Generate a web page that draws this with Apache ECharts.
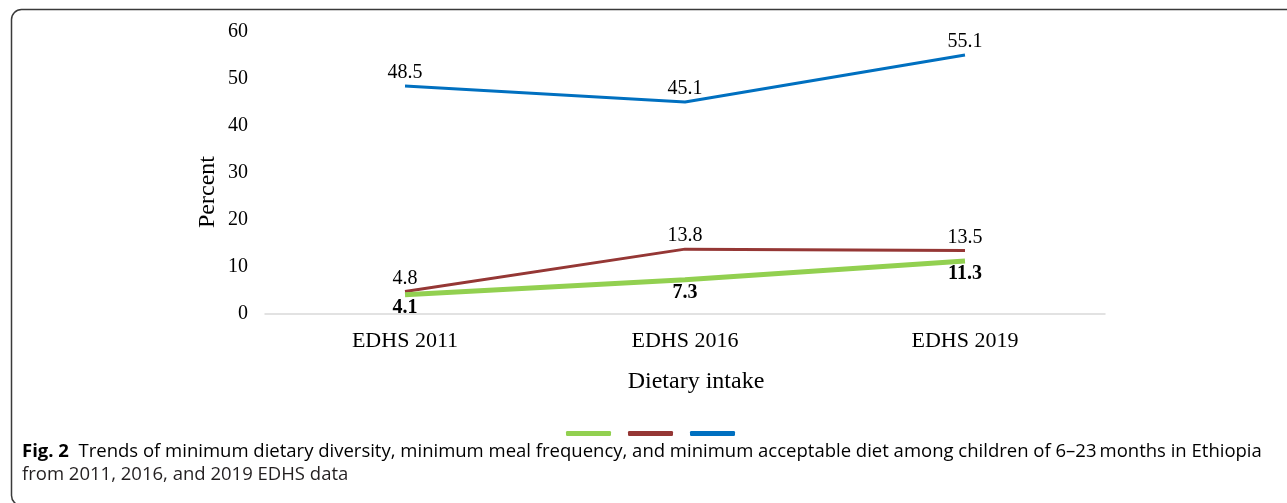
<!DOCTYPE html>
<html><head><meta charset="utf-8">
<script src="https://cdn.jsdelivr.net/npm/echarts@6/dist/echarts.min.js"></script>
<style>html,body{margin:0;padding:0;background:#fff}#c{width:1287px;height:503px}</style>
</head><body><div id="c"></div>
<script>
var categories = ['EDHS 2011', 'EDHS 2016', 'EDHS 2019'];
var dietaryDiversity = [4.1, 7.3, 11.3];
var mealFrequency = [4.8, 13.8, 13.5];
var acceptableDiet = [48.5, 45.1, 55.1];
var yTicks = [0, 10, 20, 30, 40, 50, 60];
var yAxisTitle = 'Percent';
var xAxisTitle = 'Dietary intake';
var captionBold = 'Fig. 2';
var captionLine1 = '  Trends of minimum dietary diversity, minimum meal frequency, and minimum acceptable diet among children of 6\u201323\u2009months in Ethiopia';
var captionLine2 = 'from 2011, 2016, and 2019 EDHS data';

var serif = '"Liberation Serif", "Times New Roman", serif';
var sans = '"Open Sans", "Noto Sans", sans-serif';
var chart = echarts.init(document.getElementById('c'), null, {renderer: 'canvas'});
function lbl(pos, bold) {
  return {show: true, position: pos, distance: 3, color: '#000', fontFamily: serif, fontSize: 20, fontWeight: bold ? 'bold' : 'normal'};
}
chart.setOption({
  animation: false,
  grid: {left: 265, right: 182, top: 32, bottom: 189},
  legend: {
    left: 561, top: 426, itemWidth: 45, itemHeight: 5, itemGap: 17,
    icon: 'roundRect', formatter: function(){return '';},
    textStyle: {fontSize: 1, padding: 0},
    data: ['Minimum dietary diversity', 'Minimum meal frequency', 'Minimum acceptable diet']
  },
  xAxis: {
    type: 'category', data: categories, boundaryGap: true,
    axisLine: {lineStyle: {color: '#d9d9d9', width: 1.5}},
    axisTick: {show: false},
    axisLabel: {color: '#000', fontFamily: serif, fontSize: 22, margin: 16}
  },
  yAxis: {
    type: 'value', min: yTicks[0], max: yTicks[yTicks.length-1], interval: 10,
    axisLine: {show: false}, axisTick: {show: false}, splitLine: {show: false},
    axisLabel: {color: '#000', fontFamily: serif, fontSize: 20, margin: 17}
  },
  series: [
    {name: 'Minimum dietary diversity', type: 'line', data: dietaryDiversity, symbol: 'circle', symbolSize: 0.01, z: 3,
     lineStyle: {color: '#92d050', width: 5}, itemStyle: {color: '#92d050'},
     label: lbl('bottom', true)},
    {name: 'Minimum meal frequency', type: 'line', data: mealFrequency, symbol: 'circle', symbolSize: 0.01, z: 2,
     lineStyle: {color: '#953735', width: 3}, itemStyle: {color: '#953735'},
     label: lbl('top', false)},
    {name: 'Minimum acceptable diet', type: 'line', data: acceptableDiet, symbol: 'circle', symbolSize: 0.01, z: 2,
     lineStyle: {color: '#0070c0', width: 3}, itemStyle: {color: '#0070c0'},
     label: lbl('top', false)}
  ],
  graphic: [
    {type: 'rect', shape: {x: 11.5, y: 9.5, width: 1300, height: 496, r: 10}, silent: true,
     style: {fill: 'none', stroke: '#3a3a3a', lineWidth: 1.5}},
    {type: 'text', x: 208, y: 192, rotation: Math.PI/2, silent: true,
     style: {text: yAxisTitle, fontFamily: serif, fontSize: 24, fill: '#000', align: 'center', verticalAlign: 'middle'}},
    {type: 'text', x: 696, y: 382, silent: true,
     style: {text: xAxisTitle, fontFamily: serif, fontSize: 24, fill: '#000', align: 'center', verticalAlign: 'middle'}},
    {type: 'text', x: 22, y: 452, silent: true,
     style: {text: '{b|' + captionBold + '}{n|' + captionLine1 + '}', verticalAlign: 'middle',
       rich: {b: {fontFamily: sans, fontSize: 18.5, fontWeight: 'bold', color: '#231f20'},
              n: {fontFamily: sans, fontSize: 18.5, color: '#231f20'}}}},
    {type: 'text', x: 22, y: 475, silent: true,
     style: {text: captionLine2, fontFamily: sans, fontSize: 18.5, fill: '#231f20', verticalAlign: 'middle'}}
  ]
});
</script></body></html>
